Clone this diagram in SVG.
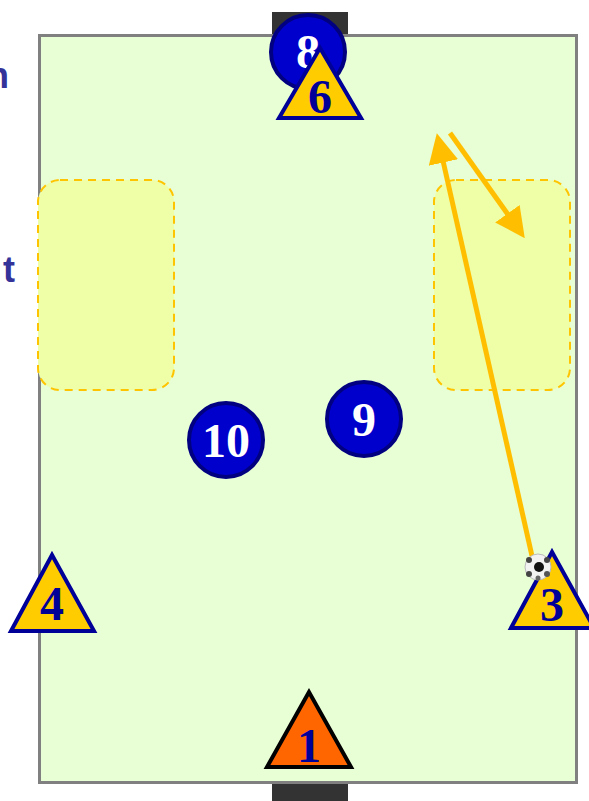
<svg xmlns="http://www.w3.org/2000/svg" width="589" height="801" viewBox="0 0 589 801">
<style>
.lbl{font-family:"Liberation Sans",Arial,sans-serif;font-weight:bold;font-size:36px;fill:#333399}
.zone{fill:#eeffa8;stroke:#ffc400;stroke-width:2;stroke-dasharray:8,6}
.pl circle{fill:#0000cc;stroke:#000080;stroke-width:4}
.pl text{font-family:"Liberation Serif","Times New Roman",serif;font-weight:bold;font-size:48px;fill:#ffffff;text-anchor:middle}
.cone polygon{fill:#ffcc00;stroke:#000099;stroke-width:4;stroke-linejoin:miter}
.cone text{font-family:"Liberation Serif","Times New Roman",serif;font-weight:bold;font-size:48px;fill:#000099;text-anchor:middle}
.arr{stroke:#ffbf00;stroke-width:5;fill:none}
</style>
<defs>
<marker id="ah" markerWidth="6" markerHeight="6" refX="4" refY="3" orient="auto" markerUnits="strokeWidth">
<path d="M0,0 L6,3 L0,6 Z" fill="#ffbf00"/>
</marker>
</defs>
<rect width="589" height="801" fill="#ffffff"/>
<text class="lbl" x="9" y="88" text-anchor="end">n</text>
<text class="lbl" x="15" y="282" text-anchor="end">t</text>
<rect x="272" y="12" width="76" height="24" fill="#333333"/>
<rect x="272" y="783" width="76" height="18" fill="#333333"/>
<rect id="field" x="39.5" y="35.5" width="537" height="747" fill="#e8fed4" stroke="#808080" stroke-width="3"/>
<rect id="zoneL" class="zone" x="38" y="180" width="136" height="210" rx="22"/>
<rect id="zoneR" class="zone" x="434" y="180" width="136" height="210" rx="22"/>
<g id="connectors">
<line class="arr" x1="532" y1="556" x2="439" y2="143" marker-end="url(#ah)"/>
<line class="arr" x1="450" y1="133" x2="519" y2="230" marker-end="url(#ah)"/>
</g>
<g id="p8" class="pl"><circle cx="308" cy="52" r="37"/><text x="308" y="68">8</text></g>
<g id="c6" class="cone"><polygon points="320,48 279,118 361,118"/><text x="320" y="113">6</text></g>
<g id="p10" class="pl"><circle cx="226" cy="440" r="37"/><text x="226" y="457">10</text></g>
<g id="p9" class="pl"><circle cx="364" cy="419" r="37"/><text x="364" y="436">9</text></g>
<g id="c4" class="cone"><polygon points="52,555 11,631 94,631"/><text x="52" y="620">4</text></g>
<g id="c3" class="cone"><polygon points="552,552 511,628 594,628"/><text x="552" y="621">3</text></g>
<g id="c1" class="cone"><polygon points="309,692 267,767 351,767" style="fill:#ff6600;stroke:#000000"/><text x="309" y="762">1</text></g>
<g id="ball">
<circle cx="538" cy="567" r="13" fill="#f2f2f2" stroke="#bbbbbb" stroke-width="1"/>
<circle cx="539" cy="567" r="5" fill="#111111"/>
<circle cx="529" cy="560" r="3" fill="#444444"/>
<circle cx="547" cy="560" r="3" fill="#444444"/>
<circle cx="529" cy="574" r="3" fill="#444444"/>
<circle cx="547" cy="574" r="3" fill="#555555"/>
<circle cx="538" cy="578" r="2.5" fill="#666666"/>
</g>
</svg>
